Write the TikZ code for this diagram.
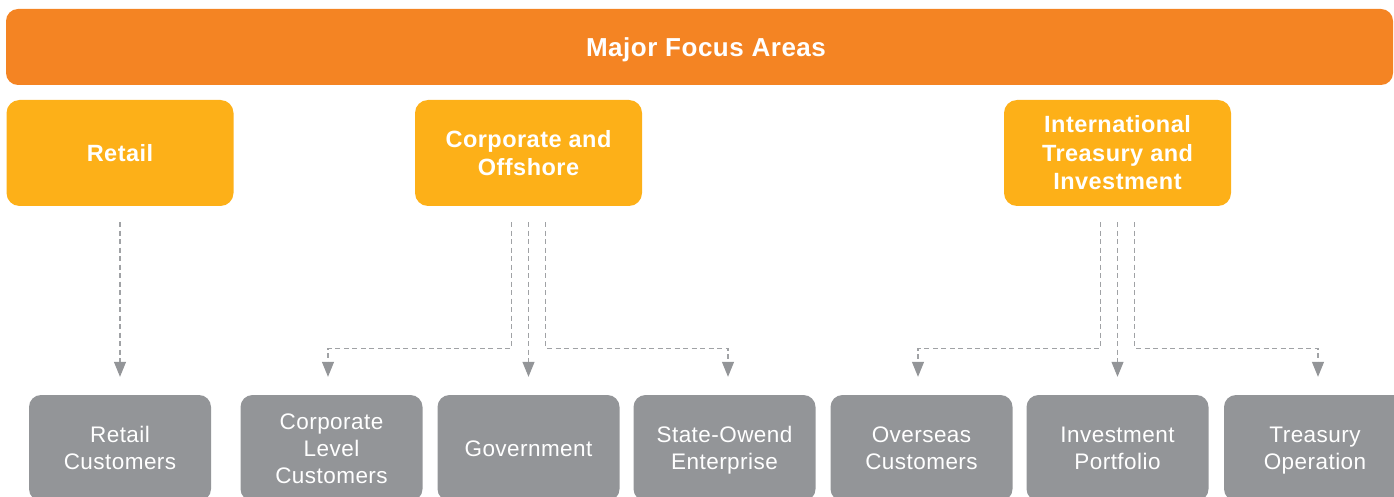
\documentclass[tikz,border=0pt]{standalone}
\usepackage{fontspec}
\setmainfont{Liberation Sans}
\newfontfamily\boxfont[LetterSpace=2]{Liberation Sans}
\usetikzlibrary{arrows.meta}
\definecolor{focusorange}{RGB}{244,132,35}
\definecolor{areayellow}{RGB}{253,176,24}
\definecolor{unitgray}{RGB}{147,149,152}
\definecolor{linkgray}{RGB}{160,162,165}
\newcommand{\capstrut}{\rule[-0.23em]{0pt}{1.18em}}
\tikzset{
  centred/.style={execute at begin node=\capstrut, execute at end node=\capstrut},
  headbar/.style={centred, fill=focusorange, rounded corners=12pt, minimum width=1387pt, minimum height=76pt,
    inner sep=0pt, text=white, font=\boxfont\bfseries\fontsize{26}{30}\selectfont},
  areabox/.style={centred, fill=areayellow, rounded corners=13pt, minimum width=227pt, minimum height=106pt,
    inner sep=0pt, align=center, text=white, font=\boxfont\bfseries\fontsize{23.5}{28.5}\selectfont},
  unitbox/.style={centred, fill=unitgray, rounded corners=12pt, minimum width=182pt, minimum height=106pt,
    inner sep=0pt, align=center, text=white, font=\boxfont\fontsize{22.5}{27}\selectfont},
  link/.style={draw=linkgray, line width=1.1pt, dash pattern=on 5pt off 3.5pt,
    -{Triangle[width=12pt,length=15pt,fill=unitgray,color=unitgray]},
    shorten <=16pt, shorten >=18pt}
}
\begin{document}
\begin{tikzpicture}[x=1pt, y=1pt]
  \clip (0,0) rectangle (1394,-497);
  % Header
  \node[headbar] (focus) at (699.5,-47) {\hspace*{13pt}Major Focus Areas};
  % Focus areas
  \node[areabox] (retail) at (120,-153) {Retail};
  \node[areabox] (corp) at (528.5,-153) {\capstrut Corporate and\\Offshore\capstrut};
  \node[areabox] (intl) at (1117.5,-153) {\capstrut International\\Treasury and\\Investment\capstrut};
  % Business units
  \node[unitbox] (rcust) at (120,-448) {\capstrut Retail\\Customers\capstrut};
  \node[unitbox] (clc) at (331.5,-448) {\capstrut Corporate\\Level\\Customers\capstrut};
  \node[unitbox] (gov) at (528.5,-448) {Government};
  \node[unitbox] (soe) at (724.5,-448) {\capstrut State-Owend\\Enterprise\capstrut};
  \node[unitbox] (ocust) at (921.5,-448) {\capstrut Overseas\\Customers\capstrut};
  \node[unitbox] (invp) at (1117.5,-448) {\capstrut Investment\\Portfolio\capstrut};
  \node[unitbox] (treas) at (1315,-448) {\capstrut Treasury\\Operation\capstrut};
  % Connectors
  \draw[link] (retail.south) -- (rcust.north);
  \draw[link] ([xshift=-17pt]corp.south) -- ++(0,-142) -| ([xshift=-3.5pt]clc.north);
  \draw[link] (corp.south) -- (gov.north);
  \draw[link] ([xshift=17pt]corp.south) -- ++(0,-142) -| ([xshift=3.5pt]soe.north);
  \draw[link] ([xshift=-17pt]intl.south) -- ++(0,-142) -| ([xshift=-3.5pt]ocust.north);
  \draw[link] (intl.south) -- (invp.north);
  \draw[link] ([xshift=17pt]intl.south) -- ++(0,-142) -| ([xshift=3pt]treas.north);
\end{tikzpicture}
\end{document}
